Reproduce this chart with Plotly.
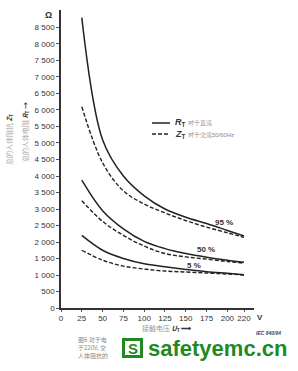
import plotly.graph_objects as go

# ---- data ----
volts = [25, 50, 75, 100, 125, 150, 175, 200, 220]
rt_95 = [8800, 5100, 4000, 3400, 3000, 2750, 2560, 2350, 2180]
rt_50 = [3875, 2950, 2400, 2020, 1800, 1650, 1540, 1450, 1390]
rt_5 = [2200, 1750, 1500, 1340, 1250, 1170, 1100, 1050, 1010]
zt_95 = [6100, 4400, 3550, 3150, 2880, 2650, 2450, 2280, 2140]
zt_50 = [3250, 2625, 2200, 1875, 1650, 1550, 1480, 1410, 1360]
zt_5 = [1750, 1450, 1270, 1180, 1120, 1090, 1060, 1030, 1000]

y_ticks = [0, 500, 1000, 1500, 2000, 2500, 3000, 3500, 4000, 4500,
           5000, 5500, 6000, 6500, 7000, 7500, 8000, 8500]
y_labels = ["0", "500", "1 000", "1 500", "2 000", "2 500", "3 000", "3 500",
            "4 000", "4 500", "5 000", "5 500", "6 000", "6 500", "7 000",
            "7 500", "8 000", "8 500"]
x_ticks = [0, 25, 50, 75, 100, 125, 150, 175, 200, 220]
x_labels = ["0", "25", "50", "75", "100", "125", "150", "175", "200", "220"]

pct_labels = ["95 %", "50 %", "5 %"]
pct_pos = [(196, 2600), (174, 1760), (160, 1300)]

W, H = 298, 371
L, R, T, B = 61, 44, 10, 63
PW, PH = W - L - R, H - T - B


def px(x):
    return (x - L) / PW


def py(y):
    return (H - B - y) / PH


LINE = "#222222"
FONT = "Liberation Sans, Arial, sans-serif"
CJK = "Noto Sans CJK SC"

fig = go.Figure()
for ys in (rt_95, rt_50, rt_5):
    fig.add_trace(go.Scatter(x=volts, y=ys, mode="lines", line_shape="spline",
                             line=dict(color=LINE, width=1.5), showlegend=False))
for ys in (zt_95, zt_50, zt_5):
    fig.add_trace(go.Scatter(x=volts, y=ys, mode="lines", line_shape="spline",
                             line=dict(color=LINE, width=1.4, dash="4px,2px"),
                             showlegend=False))

ann = []
for t, (xv, yv) in zip(pct_labels, pct_pos):
    ann.append(dict(x=xv, y=yv, xref="x", yref="y", text="<b>" + t + "</b>",
                    xanchor="center", yanchor="middle",
                    showarrow=False, font=dict(family=FONT, size=8, color="#333")))


def pa(x, y, text, size, color="#333", family=FONT, xanchor="center", **kw):
    ann.append(dict(x=px(x), y=py(y), xref="paper", yref="paper", text=text,
                    xanchor=xanchor, yanchor="middle", showarrow=False,
                    font=dict(family=family, size=size, color=color), **kw))


# omega unit and V unit
pa(48, 15, "<b>Ω</b>", 9)
pa(260, 317, "<b>V</b>", 8)

# y axis titles
pa(9, 140, "<span style='color:#aaa'>总的人体阻抗</span> <b><i>Z</i><sub>T</sub></b>",
   7, family=CJK, textangle=-90)
pa(25, 132, "<span style='color:#aaa'>总的人体电阻</span> <b><i>R</i><sub>T</sub></b> <b>→</b>",
   7, family=CJK, textangle=-90)

# x axis title
pa(166, 328, "<span style='color:#999'>接触电压</span> <b><i>U</i><sub>T</sub></b> <b>⟶</b>",
   7, family=CJK)
pa(268, 333, "<i><b>IEC 840/94</b></i>", 5, color="#444")

# legend
shapes = [
    dict(type="line", xref="paper", yref="paper", x0=px(152), x1=px(170),
         y0=py(123), y1=py(123), line=dict(color=LINE, width=1.5)),
    dict(type="line", xref="paper", yref="paper", x0=px(152), x1=px(170),
         y0=py(134), y1=py(134), line=dict(color=LINE, width=1.4, dash="4px,2px")),
]
pa(173, 123, "<b><i>R</i><sub>T</sub></b> <span style='color:#888;font-size:6px'>对于直流</span>",
   9, xanchor="left")
pa(173, 134, "<b><i>Z</i><sub>T</sub></b> <span style='color:#888;font-size:6px'>对于交流50/60Hz</span>",
   9, xanchor="left")

# caption
pa(76, 347, "图6 对于电<br>于220V, 交<br>人体阻抗的", 6, color="#888",
   family=CJK, xanchor="left", align="left")

# watermark
shapes.append(dict(type="rect", xref="paper", yref="paper", x0=px(122), x1=px(143),
                   y0=py(358), y1=py(338), fillcolor="#1f8a1f", line=dict(width=0)))
shapes.append(dict(type="rect", xref="paper", yref="paper", x0=px(125), x1=px(140),
                   y0=py(355), y1=py(341), fillcolor="white", line=dict(width=0)))
pa(132.5, 348, "<b>S</b>", 15, color="#1f8a1f")
pa(146, 348, "<b>safetyemc.cn</b>", 22, color="#1f8a1f", xanchor="left")

fig.update_layout(
    width=W, height=H, margin=dict(l=L, r=R, t=T, b=B),
    paper_bgcolor="white", plot_bgcolor="white",
    showlegend=False, annotations=ann, shapes=shapes,
    xaxis=dict(range=[0, 232], tickvals=x_ticks, ticktext=x_labels,
               showgrid=False, zeroline=False, showline=True, linecolor="#333",
               linewidth=1.5, ticks="outside", ticklen=2, tickcolor="#555",
               tickfont=dict(family=FONT, size=8, color="#333")),
    yaxis=dict(range=[0, 9030], tickvals=y_ticks, ticktext=y_labels,
               showgrid=False, zeroline=False, showline=True, linecolor="#333",
               linewidth=1.5, ticks="outside", ticklen=3, tickcolor="#555",
               tickfont=dict(family=FONT, size=8, color="#333")),
)

fig.write_html("out.html")
